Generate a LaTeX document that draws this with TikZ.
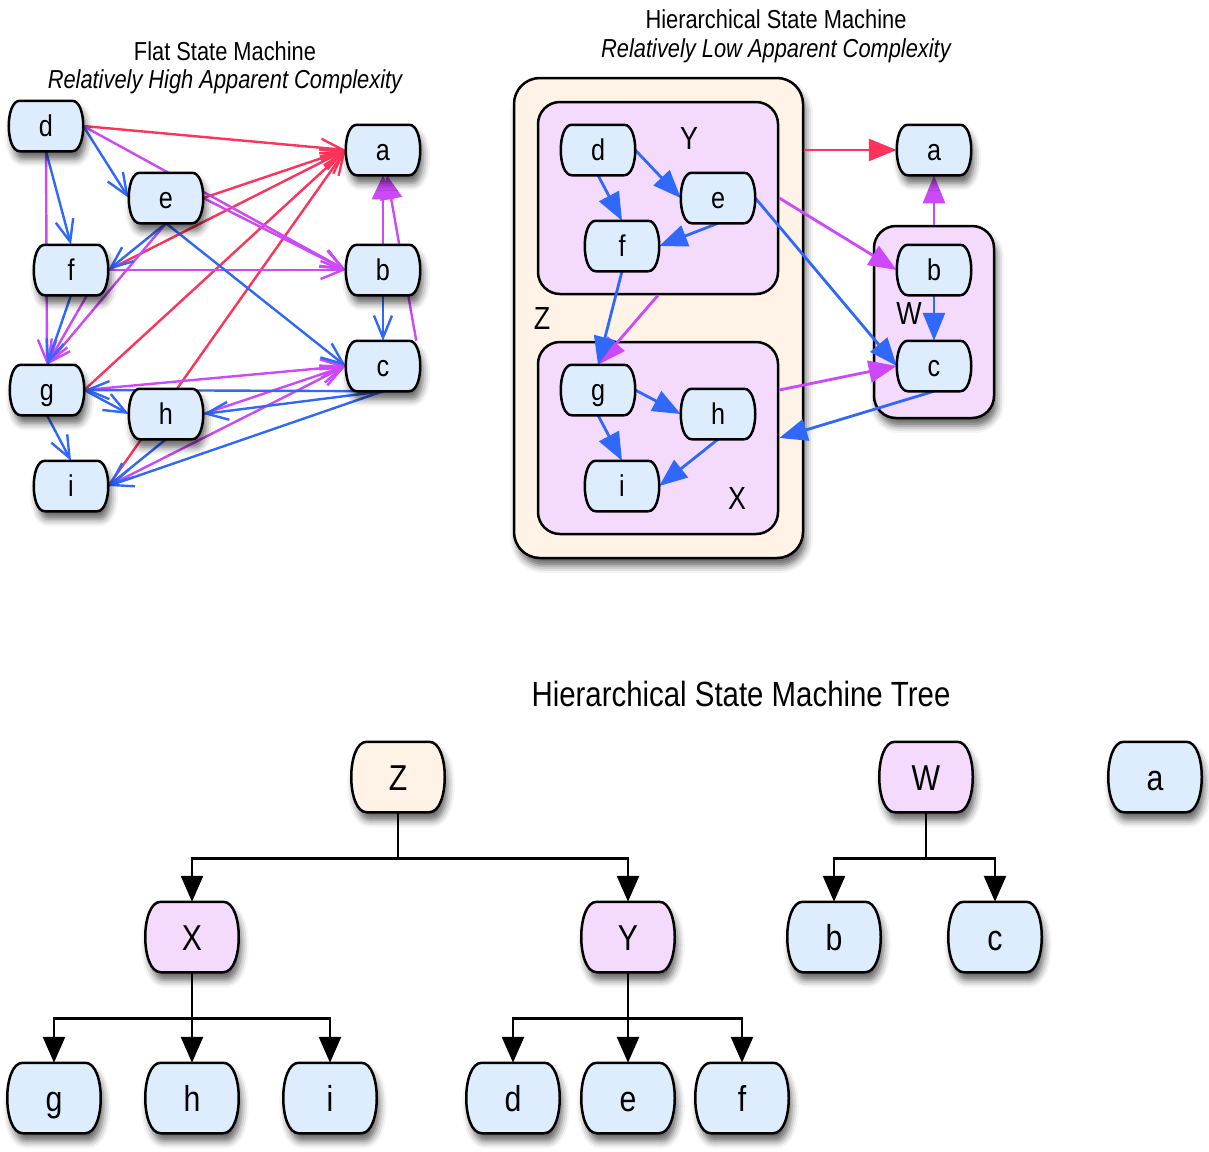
\documentclass[tikz,border=0pt]{standalone}
\usepackage{fontspec}
\setmainfont{Liberation Sans}
\newfontfamily\cond[FakeStretch=0.84]{Liberation Sans}
\usetikzlibrary{arrows.meta,shadows.blur,calc}

\definecolor{stfill}{RGB}{221,237,253}
\definecolor{zfill}{RGB}{254,243,230}
\definecolor{xfill}{RGB}{244,219,253}
\definecolor{tred}{RGB}{253,51,90}
\definecolor{tblue}{RGB}{48,104,252}
\definecolor{tmag}{RGB}{204,72,250}

% state box: straight top and bottom, softly bulging sides
\makeatletter
\pgfdeclareshape{statebox}{%
  \inheritsavedanchors[from=rectangle]%
  \inheritanchorborder[from=rectangle]%
  \inheritanchor[from=rectangle]{center}%
  \inheritanchor[from=rectangle]{north}%
  \inheritanchor[from=rectangle]{south}%
  \inheritanchor[from=rectangle]{east}%
  \inheritanchor[from=rectangle]{west}%
  \inheritanchor[from=rectangle]{north east}%
  \inheritanchor[from=rectangle]{north west}%
  \inheritanchor[from=rectangle]{south east}%
  \inheritanchor[from=rectangle]{south west}%
  \inheritanchor[from=rectangle]{base}%
  \inheritanchor[from=rectangle]{mid}%
  \backgroundpath{%
    \southwest \edef\sbL{\the\pgf@x}\edef\sbB{\the\pgf@y}%
    \northeast \edef\sbR{\the\pgf@x}\edef\sbT{\the\pgf@y}%
    \pgf@xc=\sbT\relax \advance\pgf@xc by -\sbB\relax
    \edef\sbC{\the\dimexpr\pgf@xc*22/100\relax}%
    \edef\sbK{\the\dimexpr\pgf@xc*22/300\relax}%
    \pgfpathmoveto{\pgfqpoint{\dimexpr\sbL+\sbC\relax}{\dimexpr\sbT\relax}}%
    \pgfpathlineto{\pgfqpoint{\dimexpr\sbR-\sbC\relax}{\dimexpr\sbT\relax}}%
    \pgfpathcurveto{\pgfqpoint{\dimexpr\sbR+\sbK\relax}{\dimexpr\sbT\relax}}%
      {\pgfqpoint{\dimexpr\sbR+\sbK\relax}{\dimexpr\sbB\relax}}%
      {\pgfqpoint{\dimexpr\sbR-\sbC\relax}{\dimexpr\sbB\relax}}%
    \pgfpathlineto{\pgfqpoint{\dimexpr\sbL+\sbC\relax}{\dimexpr\sbB\relax}}%
    \pgfpathcurveto{\pgfqpoint{\dimexpr\sbL-\sbK\relax}{\dimexpr\sbB\relax}}%
      {\pgfqpoint{\dimexpr\sbL-\sbK\relax}{\dimexpr\sbT\relax}}%
      {\pgfqpoint{\dimexpr\sbL+\sbC\relax}{\dimexpr\sbT\relax}}%
    \pgfpathclose
  }%
}
\makeatother

\tikzset{
  nshadow/.style={blur shadow={shadow xshift=3pt,shadow yshift=-8pt,shadow blur radius=7pt,shadow opacity=60}},
  state/.style={shape=statebox, draw=black, line width=2.5pt, fill=stfill,
    minimum width=72pt, minimum height=48pt, inner sep=0pt,
    font=\cond\fontsize{30}{30}\selectfont, text height=21pt, text depth=0pt},
  % placeholder pass: same geometry, nothing painted
  ghost/.style={draw=none, fill=none, text opacity=0},
  shown/.style={},
  tnode/.style={state, nshadow, minimum width=91pt, minimum height=68pt,
    font=\cond\fontsize{36}{36}\selectfont, text height=26pt},
  container/.style={draw=black, line width=2.5pt, rounded corners=22pt, inner sep=0pt},
  boxlabel/.style={font=\cond\fontsize{32}{32}\selectfont, inner sep=0pt},
  title/.style={font=\cond\fontsize{26}{26}\selectfont, inner sep=0pt, anchor=base},
  fedge/.style={line width=2.4pt, -{Straight Barb[length=22pt,width=18pt]}},
  fedgefill/.style={line width=2.4pt, -{Triangle[length=24pt,width=22pt]}},
  hedge/.style={line width=2.8pt, -{Triangle[length=28pt,width=22pt]}},
  tedge/.style={line width=2.8pt, -{Triangle[length=26pt,width=22pt]}},
}

% state nodes of both machines; #1 = ghost (geometry only) or shown
\newcommand\machinestates[2]{%
  \node[state,#1,#2] (fd) at (46,126) {d};
  \node[state,#1,#2] (fe) at (166,198) {e};
  \node[state,#1,#2] (ff) at (71,270) {f};
  \node[state,#1,#2] (fg) at (47,390) {g};
  \node[state,#1,#2] (fh) at (166,414) {h};
  \node[state,#1,#2] (fi) at (71,486) {i};
  \node[state,#1,#2] (fa) at (383,150) {a};
  \node[state,#1,#2] (fb) at (383,270) {b};
  \node[state,#1,#2] (fc) at (383,366) {c};
  \node[state,#1] (hd) at (598,150) {d};
  \node[state,#1] (he) at (718,198) {e};
  \node[state,#1] (hf) at (622,246) {f};
  \node[state,#1] (hg) at (598,390) {g};
  \node[state,#1] (hh) at (718,414) {h};
  \node[state,#1] (hi) at (622,486) {i};
  \node[state,#1,#2] (ha) at (934,150) {a};
  \node[state,#1] (hb) at (934,270) {b};
  \node[state,#1] (hc) at (934,366) {c};
}

\begin{document}
\begin{tikzpicture}[x=1pt,y=-1pt]
\useasboundingbox (0,0) rectangle (1209,1151);

% ---------- titles ----------
\node[title] (flattitle) at (225,60) {Flat State Machine};
\node[title] (flatsub) at (225,88) {\itshape Relatively High Apparent Complexity};
\node[title] (hiertitle) at (776,28) {Hierarchical State Machine};
\node[title] (hiersub) at (776,57) {\itshape Relatively Low Apparent Complexity};
\node[title, font=\cond\fontsize{35}{35}\selectfont] (treetitle) at (741,706) {Hierarchical State Machine Tree};

% ---------- composite states ----------
\node[container, nshadow, fill=zfill, rounded corners=26pt, minimum width=289pt, minimum height=480pt] (Zbox) at (658.5,318) {};
\node[container, fill=xfill, minimum width=240pt, minimum height=192pt] (Ybox) at (658,198) {};
\node[container, fill=xfill, minimum width=240pt, minimum height=192pt] (Xbox) at (658,438) {};
\node[container, nshadow, fill=xfill, minimum width=120pt, minimum height=192pt] (Wbox) at (934,322) {};

\node[boxlabel] (Zlabel) at (542,318) {Z};
\node[boxlabel] (Ylabel) at (689,138) {Y};
\node[boxlabel] (Xlabel) at (737,498) {X};
\node[boxlabel] (Wlabel) at (909,313) {W};

\machinestates{ghost}{shown}

% ---------- flat machine transitions ----------
\draw[fedge,tred] (fd.east) -- (fa.west);
\draw[fedge,tred] (fe.east) -- (fa.west);
\draw[fedge,tred] (ff.east) -- (fa.west);
\draw[fedge,tred] (fg.east) -- (fa.west);
\draw[fedge,tred] (fi.east) -- (fa.west);
\draw[fedge,tmag] (fd.east) -- (fb.west);
\draw[fedge,tmag] (fe.east) -- (fb.west);
\draw[fedge,tmag] (ff.east) -- (fb.west);
\draw[fedge,tmag] (fd.south) -- (fg.north);
\draw[fedge,tmag] (fe.south) -- (fg.north);
\draw[fedge,tmag] ([xshift=16pt]ff.south) -- (fg.north);
\draw[fedge,tmag] (fg.east) -- (fc.west);
\draw[fedge,tmag] (fh.east) -- (fc.west);
\draw[fedge,tmag] (fi.east) -- (fc.west);
\draw[fedgefill,tmag] ([xshift=-4pt]fc.north east) -- ([xshift=4pt]fa.south);
\draw[fedgefill,tmag] (fb.north) -- (fa.south);
\draw[fedge,tblue] (fd.east) -- (fe.west);
\draw[fedge,tblue] (fd.south) -- (ff.north);
\draw[fedge,tblue] (fe.south) -- (ff.east);
\draw[fedge,tblue] (fe.south) -- (fc.west);
\draw[fedge,tblue] (ff.south) -- (fg.north);
\draw[fedge,tblue] (fg.east) -- (fh.west);
\draw[fedge,tblue] (fg.south) -- (fi.north);
\draw[fedge,tblue] (fh.south) -- (fi.east);
\draw[fedge,tblue] (fb.south) -- (fc.north);
\draw[fedge,tblue] (fc.south) -- (fg.east);
\draw[fedge,tblue] (fc.south) -- (fh.east);
\draw[fedge,tblue] (fc.south) -- (fi.east);

% ---------- hierarchical machine transitions ----------
\draw[hedge,tred] (ha.west -| Zbox.east) -- (ha.west);
\draw[hedge,tmag] (Ybox.east) -- (hb.west);
\draw[hedge,tmag] (Ybox.south) -- (hg.north);
\draw[hedge,tmag] (hg.east -| Xbox.east) -- (hc.west);
\draw[hedge,tmag] (Wbox.north) -- (ha.south);
\draw[hedge,tblue] (hd.east) -- (he.west);
\draw[hedge,tblue] (hd.south) -- (hf.north);
\draw[hedge,tblue] (he.south) -- (hf.east);
\draw[hedge,tblue] (he.east) -- (hc.west);
\draw[hedge,tblue] (hf.south) -- (hg.north);
\draw[hedge,tblue] (hg.east) -- (hh.west);
\draw[hedge,tblue] (hg.south) -- (hi.north);
\draw[hedge,tblue] (hh.south) -- (hi.east);
\draw[hedge,tblue] (hb.south) -- (hc.north);
\draw[hedge,tblue] (hc.south) -- (Xbox.east);

% state nodes painted over their transitions
\machinestates{shown}{nshadow}

% ---------- state machine tree ----------
\node[tnode, fill=zfill] (tZ) at (398,777) {Z};
\node[tnode, fill=xfill] (tX) at (192,937) {X};
\node[tnode, fill=xfill] (tY) at (628,937) {Y};
\node[tnode] (tg) at (54,1098) {g};
\node[tnode] (th) at (192,1098) {h};
\node[tnode] (ti) at (330,1098) {i};
\node[tnode] (td) at (513,1098) {d};
\node[tnode] (te) at (628,1098) {e};
\node[tnode] (tf) at (742,1098) {f};
\node[tnode, fill=xfill] (tW) at (926,777) {W};
\node[tnode] (tb) at (834,937) {b};
\node[tnode] (tc) at (995,937) {c};
\node[tnode] (ta) at (1155,777) {a};

\draw[tedge] (tZ.south) -- ++(0,46) -| (tX.north);
\draw[tedge] (tZ.south) -- ++(0,46) -| (tY.north);
\draw[tedge] (tX.south) -- ++(0,46) -| (tg.north);
\draw[tedge] (tX.south) -- (th.north);
\draw[tedge] (tX.south) -- ++(0,46) -| (ti.north);
\draw[tedge] (tY.south) -- ++(0,46) -| (td.north);
\draw[tedge] (tY.south) -- (te.north);
\draw[tedge] (tY.south) -- ++(0,46) -| (tf.north);
\draw[tedge] (tW.south) -- ++(0,46) -| (tb.north);
\draw[tedge] (tW.south) -- ++(0,46) -| (tc.north);
\end{tikzpicture}
\end{document}
